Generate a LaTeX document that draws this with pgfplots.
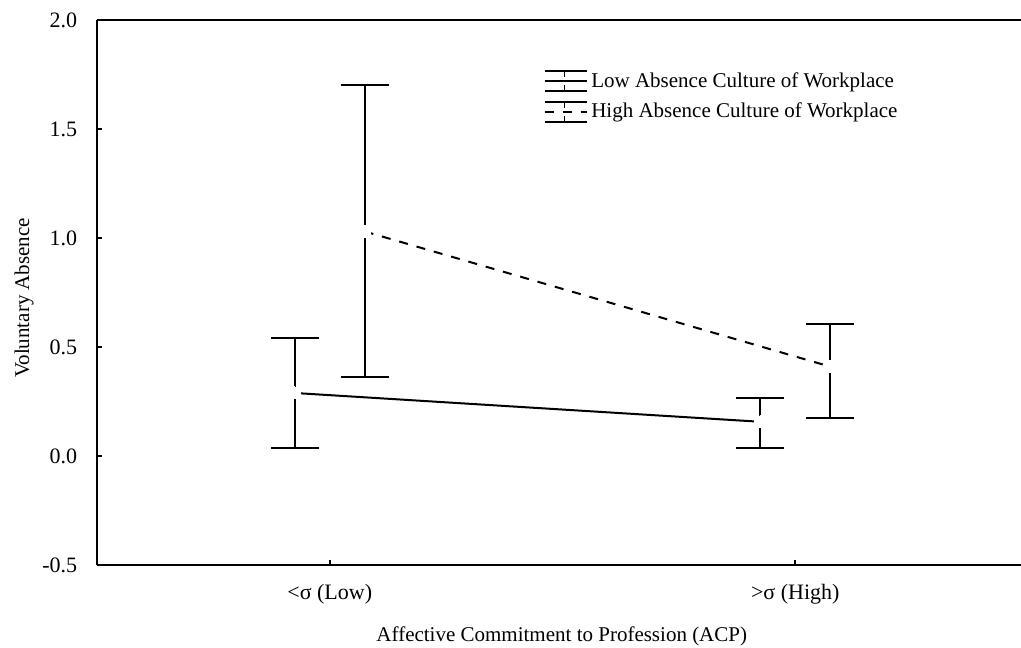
\documentclass[border=0pt]{standalone}
\usepackage{pgfplots}
\pgfplotsset{compat=1.18}
\usepackage{fontspec}
\setmainfont{Liberation Serif}
\usetikzlibrary{calc}
\begin{document}
\begin{tikzpicture}
\begin{axis}[
  scale only axis, width=462pt, height=272.5pt,
  xmin=-0.5, xmax=1.485, ymin=-0.5, ymax=2.0,
  axis x line=box, axis y line=left,
  axis line style={line width=1pt, -},
  x axis line style={-}, y axis line style={-},
  xtick={0,1}, xticklabels={<σ (Low), >σ (High)},
  xtick pos=bottom, ytick pos=left,
  ytick={-0.5,0,0.5,1,1.5,2},
  tick align=inside, major tick length=2.5pt,
  tick style={line width=0.8pt, black},
  /pgf/number format/assume math mode=true,
  yticklabel style={/pgf/number format/fixed, /pgf/number format/fixed zerofill, /pgf/number format/precision=1,
    xshift=-6.4pt, font=\fontsize{11}{13}\selectfont},
  xticklabel style={yshift=-6pt, font=\fontsize{11}{13}\selectfont},
  every axis y label/.style={at={(axis description cs:-0.079,0.49)}, anchor=center, rotate=90, font=\fontsize{10.5}{12}\selectfont},
  every axis x label/.style={at={(axis description cs:0.503,-0.13)}, anchor=center, font=\fontsize{10.5}{12}\selectfont},
  ylabel={Voluntary Absence},
  xlabel={Affective Commitment to Profession (ACP)},
  clip=false,
  legend style={draw=none, fill=none, at={(axis description cs:0.483,0.912)}, anchor=north west,
    font=\fontsize{10.5}{12}\selectfont, row sep=2.5pt, inner sep=0pt},
  legend cell align=left,
  legend image code/.code={
    \draw[solid, line width=0.8pt] (0pt,5pt) -- (21pt,5pt);
    \draw[solid, line width=0.8pt] (0pt,-5pt) -- (21pt,-5pt);
    \draw[solid, line width=0.6pt] (10pt,5pt) -- (10pt,2pt);
    \draw[solid, line width=0.6pt] (10pt,-2pt) -- (10pt,-5pt);
    \draw[#1, line width=0.8pt] (0pt,0pt) -- (21pt,0pt);
  },
]
\addplot[black, line width=1pt, mark=none,
  error bars/.cd, y dir=both, y explicit,
  error bar style={line width=1pt, solid},
  error mark options={rotate=90, mark size=12pt, line width=1pt, solid}]
  table[x=x, y=y, y error plus=ep, y error minus=em] {
x y ep em
-0.075 0.289 0.251 0.252
0.925 0.157 0.109 0.120
};
\addlegendentry{Low Absence Culture of Workplace}
\addplot[black, line width=1pt, dash pattern=on 4.5pt off 4.5pt, mark=none,
  error bars/.cd, y dir=both, y explicit,
  error bar style={line width=1pt, solid},
  error mark options={rotate=90, mark size=12pt, line width=1pt, solid}]
  table[x=x, y=y, y error plus=ep, y error minus=em] {
x y ep em
0.075 1.03 0.67 0.668
1.075 0.41 0.195 0.234
};
\addlegendentry{High Absence Culture of Workplace}
\addplot[white, only marks, mark=*, mark size=3pt, mark options={fill=white, draw=white, line width=0pt}, forget plot]
  table[x=x, y=y] {
x y
-0.075 0.289
0.925 0.157
0.075 1.03
1.075 0.41
};
\end{axis}
\pgfresetboundingbox
\useasboundingbox ($(current axis.south west)+(-48.5pt,-41pt)$) rectangle ($(current axis.north east)+(0pt,10pt)$);
\end{tikzpicture}
\end{document}
